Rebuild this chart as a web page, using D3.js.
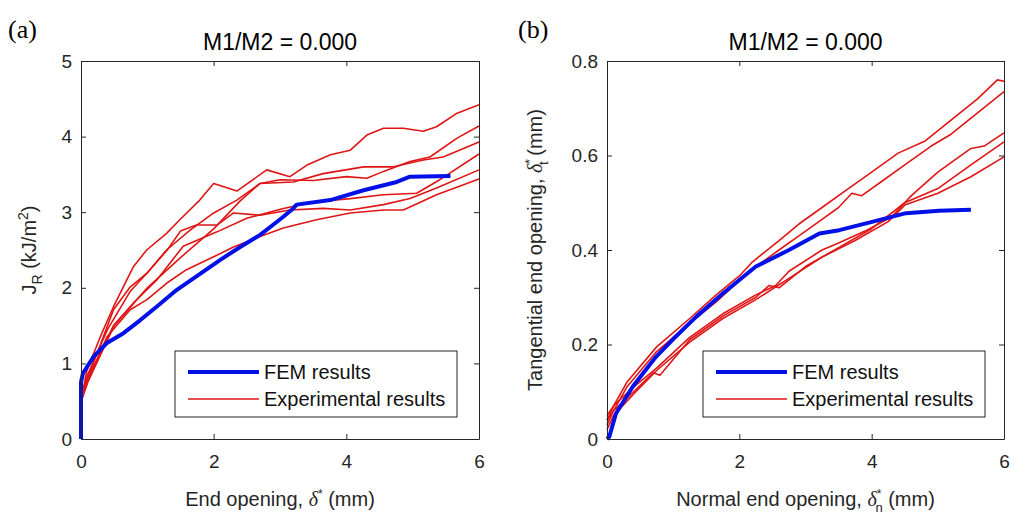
<!DOCTYPE html>
<html>
<head>
<meta charset="utf-8">
<script src="https://cdn.jsdelivr.net/npm/d3@7"></script>
<style>
  body { margin: 0; background: #fff; }
  svg text { font-family: "Liberation Sans", Arial, sans-serif; fill: #262626; }
  .greek { font-family: "Liberation Serif", "Times New Roman", serif; font-style: italic; }
</style>
</head>
<body>
<div id="chart"></div>
<script>
// DATA - panel (a): J_R vs end opening
const femA = [[0,0],[0,0.75],[0.03,0.87],[0.19,1.09],[0.39,1.27],[0.64,1.4],[0.89,1.57],[1.14,1.75],[1.44,1.97],[1.74,2.15],[2.1,2.37],[2.4,2.54],[2.7,2.7],[2.95,2.87],[3.05,2.94],[3.2,3.05],[3.25,3.1],[3.76,3.16],[4.26,3.29],[4.76,3.4],[4.96,3.47],[5.57,3.48]];
const expA1 = [[0.02,0.6],[0.09,0.91],[0.29,1.35],[0.49,1.75],[0.79,2.28],[0.99,2.5],[1.29,2.72],[1.49,2.9],[1.79,3.16],[2.0,3.38],[2.35,3.28],[2.8,3.56],[3.15,3.47],[3.4,3.62],[3.76,3.76],[4.06,3.82],[4.31,4.02],[4.56,4.11],[4.86,4.11],[5.16,4.07],[5.36,4.13],[5.67,4.31],[6.0,4.42]];
const expA2 = [[0.02,0.55],[0.1,0.8],[0.49,1.71],[0.74,2.01],[0.99,2.19],[1.29,2.5],[1.64,2.76],[2.0,2.99],[2.35,3.16],[2.7,3.38],[3.0,3.43],[3.5,3.42],[4.0,3.47],[4.31,3.45],[4.56,3.54],[4.96,3.67],[5.26,3.73],[5.67,3.98],[6.0,4.14]];
const expA3 = [[0.02,0.55],[0.1,0.75],[0.5,1.5],[1.0,2.0],[1.5,2.4],[2.0,2.78],[2.4,3.15],[2.7,3.38],[3.2,3.4],[3.65,3.51],[4.26,3.6],[4.71,3.6],[5.16,3.69],[5.46,3.73],[6.0,3.93]];
const expA4 = [[0.02,0.6],[0.1,0.85],[0.4,1.45],[0.74,1.95],[1.0,2.2],[1.3,2.5],[1.5,2.75],[1.74,2.83],[2.05,2.83],[2.3,2.99],[2.7,2.96],[3.15,3.03],[3.65,3.05],[4.06,3.03],[4.56,3.1],[4.96,3.18],[5.36,3.32],[6.0,3.56]];
const expA5 = [[0.02,0.6],[0.1,0.8],[0.49,1.5],[0.79,1.8],[1.14,2.1],[1.54,2.55],[2.05,2.74],[2.5,2.92],[3.05,3.05],[3.55,3.14],[4.06,3.18],[4.56,3.23],[5.06,3.25],[5.41,3.43],[6.0,3.77]];
const expA6 = [[0.02,0.55],[0.1,0.75],[0.39,1.35],[0.74,1.71],[0.99,1.84],[1.29,2.06],[1.59,2.24],[2.0,2.41],[2.3,2.54],[2.7,2.68],[3.05,2.79],[3.55,2.9],[4.06,2.99],[4.56,3.03],[4.86,3.03],[5.36,3.23],[6.0,3.44]];

// DATA - panel (b): tangential vs normal end opening
const femB = [[0,0],[0.035,0.005],[0.136,0.054],[0.39,0.111],[0.74,0.174],[0.99,0.21],[1.35,0.259],[1.75,0.308],[2.25,0.365],[2.75,0.4],[3.21,0.435],[3.51,0.442],[4.02,0.46],[4.52,0.478],[5.02,0.483],[5.5,0.485]];
const expB1 = [[0,0.04],[0.1,0.07],[0.3,0.12],[0.75,0.195],[1.25,0.255],[1.65,0.305],[2.0,0.345],[2.2,0.375],[2.6,0.42],[2.9,0.455],[3.25,0.49],[3.6,0.525],[4.0,0.565],[4.4,0.605],[4.8,0.63],[5.2,0.675],[5.6,0.72],[5.9,0.76],[6.0,0.757]];
const expB2 = [[0,0.03],[0.1,0.06],[0.3,0.11],[0.75,0.185],[1.25,0.245],[1.65,0.29],[2.0,0.335],[2.2,0.36],[2.6,0.4],[2.9,0.43],[3.25,0.465],[3.5,0.49],[3.7,0.52],[3.85,0.515],[4.15,0.545],[4.5,0.58],[4.9,0.62],[5.2,0.645],[5.6,0.69],[6.0,0.735]];
const expB3 = [[0,0.05],[0.1,0.07],[0.4,0.11],[0.75,0.15],[1.25,0.215],[1.75,0.265],[2.25,0.305],[2.55,0.325],[2.75,0.355],[3.25,0.4],[3.5,0.415],[3.9,0.44],[4.3,0.47],[4.5,0.5],[4.6,0.515],[5.0,0.565],[5.5,0.615],[5.7,0.62],[6.0,0.648]];
const expB4 = [[0,0.04],[0.1,0.06],[0.4,0.1],[0.7,0.14],[0.8,0.135],[1.25,0.21],[1.75,0.26],[2.25,0.3],[2.45,0.325],[2.6,0.32],[3.0,0.365],[3.5,0.405],[4.0,0.445],[4.5,0.5],[5.0,0.53],[5.5,0.58],[6.0,0.629]];
const expB5 = [[0,0.02],[0.1,0.05],[0.4,0.095],[0.75,0.145],[1.25,0.205],[1.75,0.255],[2.25,0.295],[2.75,0.34],[3.25,0.385],[3.75,0.42],[4.25,0.46],[4.5,0.495],[5.0,0.52],[5.5,0.555],[6.0,0.597]];

const xTicks = [0, 2, 4, 6];
const yTicksA = [0, 1, 2, 3, 4, 5];
const yTicksB = [0, 0.2, 0.4, 0.6, 0.8];
const legendLabels = ["FEM results", "Experimental results"];

const RED = "#e01515";
const BLUE = "#0010e6";

const svg = d3.select("#chart").append("svg")
    .attr("width", 1014)
    .attr("height", 524);

function drawPanel(cfg) {
    const x = d3.scaleLinear().domain([0, 6]).range([cfg.left, cfg.right]);
    const y = d3.scaleLinear().domain(cfg.yDomain).range([cfg.bottom, cfg.top]);
    const g = svg.append("g");

    // lines
    const line = d3.line().x(d => x(d[0])).y(d => y(d[1]));
    cfg.exp.forEach(s => {
        g.append("path").datum(s)
            .attr("fill", "none").attr("stroke", RED).attr("stroke-width", 1.6)
            .attr("stroke-linejoin", "round")
            .attr("d", line);
    });
    g.append("path").datum(cfg.fem)
        .attr("fill", "none").attr("stroke", BLUE).attr("stroke-width", 4)
        .attr("stroke-linejoin", "round")
        .attr("d", line);

    // axes (ticks inward on all four sides)
    const axB = g.append("g").attr("transform", `translate(0,${cfg.bottom})`)
        .call(d3.axisBottom(x).tickValues(xTicks).tickSize(-5).tickSizeOuter(0).tickPadding(16).tickFormat(d3.format("d")));
    const axT = g.append("g").attr("transform", `translate(0,${cfg.top})`)
        .call(d3.axisTop(x).tickValues(xTicks).tickSize(-5).tickSizeOuter(0).tickFormat(""));
    const axL = g.append("g").attr("transform", `translate(${cfg.left},0)`)
        .call(d3.axisLeft(y).tickValues(cfg.yTicks).tickSize(-5).tickSizeOuter(0).tickPadding(9).tickFormat(cfg.yFormat));
    const axR = g.append("g").attr("transform", `translate(${cfg.right},0)`)
        .call(d3.axisRight(y).tickValues(cfg.yTicks).tickSize(-5).tickSizeOuter(0).tickFormat(""));
    [axB, axT, axL, axR].forEach(a => {
        a.selectAll("path.domain").attr("stroke", "#262626");
        a.selectAll("line").attr("stroke", "#262626");
        a.selectAll("text").style("font-size", "19px").attr("fill", "#262626")
            .style("font-family", "'Liberation Sans', Arial, sans-serif");
    });

    // title
    g.append("text")
        .attr("x", (cfg.left + cfg.right) / 2).attr("y", 50)
        .attr("text-anchor", "middle").style("font-size", "23px").style("fill", "#000")
        .text("M1/M2 = 0.000");

    // panel label
    g.append("text")
        .attr("x", cfg.labelX).attr("y", 38)
        .style("font-family", "'Liberation Serif', 'Times New Roman', serif")
        .style("font-size", "26px").style("fill", "#000")
        .text(cfg.label);

    // x axis title
    const xt = g.append("text")
        .attr("x", (cfg.left + cfg.right) / 2).attr("y", 506)
        .attr("text-anchor", "middle").style("font-size", "20px");
    xt.append("tspan").text(cfg.xTitle);
    xt.append("tspan").attr("class", "greek").text("δ");
    xt.append("tspan").attr("dy", -8).style("font-size", "12px").text("*");
    if (cfg.xSub) {
        xt.append("tspan").attr("dx", -6).attr("dy", 14).style("font-size", "13px").text(cfg.xSub);
        xt.append("tspan").attr("dy", -6).text(" (mm)");
    } else {
        xt.append("tspan").attr("dy", 8).text(" (mm)");
    }

    // y axis title
    const yt = g.append("text")
        .attr("transform", `translate(${cfg.yTitleX},${(cfg.top + cfg.bottom) / 2}) rotate(-90)`)
        .attr("text-anchor", "middle").style("font-size", "20px");
    cfg.yTitle(yt);

    // legend
    const lg = g.append("g").attr("transform", `translate(${cfg.legX},351)`);
    lg.append("rect").attr("width", 282).attr("height", 66)
        .attr("fill", "#fff").attr("stroke", "#262626").attr("stroke-width", 1);
    [[BLUE, 4], [RED, 1.6]].forEach((st, i) => {
        lg.append("line")
            .attr("x1", 13).attr("x2", 84)
            .attr("y1", 21 + i * 27).attr("y2", 21 + i * 27)
            .attr("stroke", st[0]).attr("stroke-width", st[1]);
        lg.append("text")
            .attr("x", 89).attr("y", 28 + i * 27)
            .style("font-size", "20px").style("fill", "#111")
            .text(legendLabels[i]);
    });
}

drawPanel({
    left: 81, right: 479, top: 61, bottom: 439,
    yDomain: [0, 5], yTicks: yTicksA, yFormat: d3.format("d"),
    fem: femA, exp: [expA1, expA2, expA3, expA4, expA5, expA6],
    label: "(a)", labelX: 8,
    xTitle: "End opening, ", xSub: null,
    yTitleX: 36,
    yTitle: t => {
        t.append("tspan").text("J");
        t.append("tspan").attr("dy", 6).style("font-size", "14px").text("R");
        t.append("tspan").attr("dy", -6).text(" (kJ/m");
        t.append("tspan").attr("dy", -8).style("font-size", "14px").text("2");
        t.append("tspan").attr("dy", 8).text(")");
    },
    legX: 175
});

drawPanel({
    left: 607, right: 1004, top: 61, bottom: 439,
    yDomain: [0, 0.8], yTicks: yTicksB, yFormat: d => d === 0 ? "0" : d3.format(".1f")(d),
    fem: femB, exp: [expB1, expB2, expB3, expB4, expB5],
    label: "(b)", labelX: 518,
    xTitle: "Normal end opening, ", xSub: "n",
    yTitleX: 542,
    yTitle: t => {
        t.append("tspan").text("Tangential end opening, ");
        t.append("tspan").attr("class", "greek").text("δ");
        t.append("tspan").attr("dy", -8).style("font-size", "12px").text("*");
        t.append("tspan").attr("dx", -6).attr("dy", 14).style("font-size", "13px").text("t");
        t.append("tspan").attr("dy", -6).text(" (mm)");
    },
    legX: 703
});
</script>
</body>
</html>
